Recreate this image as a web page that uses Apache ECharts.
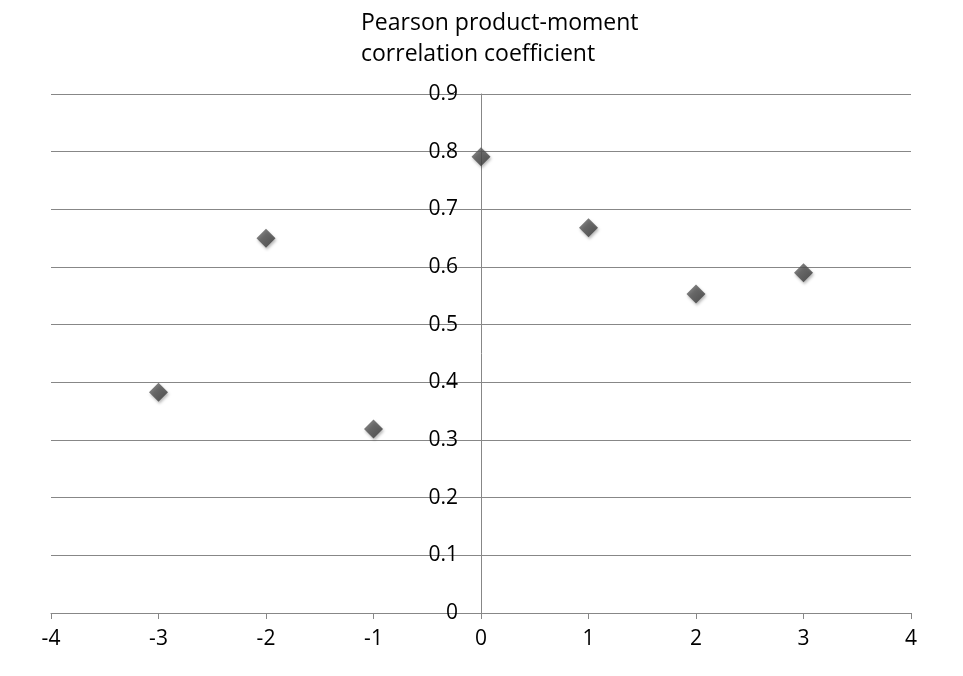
<!DOCTYPE html>
<html><head><meta charset="utf-8">
<script src="https://cdn.jsdelivr.net/npm/echarts@6/dist/echarts.min.js"></script>
<style>html,body{margin:0;padding:0;background:#fff}#c{width:963px;height:676px}</style>
</head><body><div id="c"></div>
<script>
const xValues = [-3, -2, -1, 0, 1, 2, 3];
const yValues = [0.383, 0.650, 0.319, 0.791, 0.668, 0.553, 0.590];
const titleLines = ['Pearson product-moment', 'correlation coefficient'];

const chart = echarts.init(document.getElementById('c'));
chart.setOption({
  backgroundColor: '#fff',
  animation: false,
  title: {
    text: titleLines.join('\n'),
    left: 356, top: 3,
    textStyle: { fontFamily: 'Open Sans', fontSize: 23, fontWeight: 'normal', color: '#000', lineHeight: 31 }
  },
  grid: { left: 51, right: 52, top: 94, bottom: 63 },
  xAxis: {
    type: 'value', min: -4, max: 4, interval: 1,
    axisLine: { show: true, lineStyle: { color: '#878787', width: 1 } },
    axisTick: { show: true, length: 6, lineStyle: { color: '#878787' } },
    axisLabel: { fontFamily: 'Open Sans', fontSize: 21, color: '#000', margin: 16 },
    splitLine: { show: false }
  },
  yAxis: {
    type: 'value', min: 0, max: 0.9, interval: 0.1,
    offset: -430,
    axisLine: { show: true, onZero: false, lineStyle: { color: '#878787', width: 1 } },
    axisTick: { show: false },
    axisLabel: { fontFamily: 'Open Sans', fontSize: 21, color: '#000', margin: 23,
      formatter: v => (Math.round(v * 10) / 10).toString() },
    splitLine: { show: true, lineStyle: { color: '#878787', width: 1 } }
  },
  series: [{
    type: 'scatter',
    symbol: 'diamond',
    symbolSize: 19,
    data: xValues.map((x, i) => [x, yValues[i]]),
    itemStyle: {
      color: new echarts.graphic.LinearGradient(0, 0, 1, 1, [
        { offset: 0, color: '#696969' }, { offset: 1, color: '#303030' }
      ]),
      shadowColor: 'rgba(0,0,0,0.35)', shadowBlur: 3, shadowOffsetX: 1, shadowOffsetY: 2
    }
  }]
});
</script></body></html>
